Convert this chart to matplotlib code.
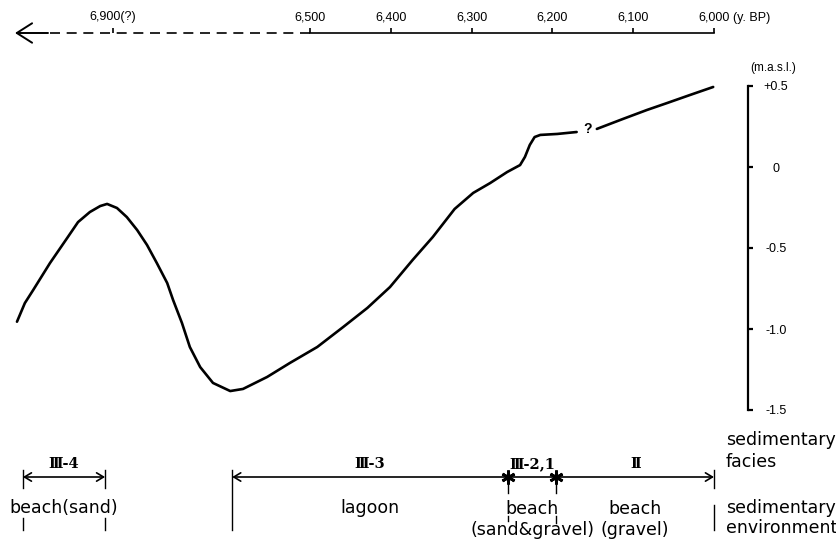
import numpy as np
import matplotlib
matplotlib.use('Agg')
import matplotlib.pyplot as plt

# ---------------- data ----------------
# sea-level curve (years BP, metres above sea level)
seg1_years = [7095, 7079, 7062, 7028, 6993, 6971, 6947, 6926, 6912, 6892,
              6872, 6851, 6831, 6811, 6790, 6778, 6760, 6744, 6723, 6697,
              6662, 6636, 6587, 6541, 6491, 6459, 6429, 6401, 6373, 6348,
              6321, 6298, 6277, 6256, 6240, 6234, 6228, 6222, 6215, 6194, 6170]
seg1_level = [-0.955, -0.84, -0.759, -0.593, -0.438, -0.340, -0.278, -0.241, -0.228, -0.253,
              -0.309, -0.389, -0.481, -0.593, -0.716, -0.821, -0.963, -1.111, -1.235, -1.333,
              -1.383, -1.370, -1.296, -1.210, -1.111, -0.988, -0.870, -0.741, -0.574, -0.432,
              -0.259, -0.160, -0.099, -0.031, 0.012, 0.062, 0.136, 0.185, 0.198, 0.204, 0.216]
seg2_years = [6145, 6113, 6083, 6058, 6030, 6001]
seg2_level = [0.235, 0.296, 0.352, 0.395, 0.444, 0.494]

age_ticks = [6900, 6500, 6400, 6300, 6200, 6100, 6000]
age_labels = ['6,900(?)', '6,500', '6,400', '6,300', '6,200', '6,100', '6,000']
level_ticks = [0.5, 0.0, -0.5, -1.0, -1.5]
level_labels = ['+0.5', '0', '-0.5', '-1.0', '-1.5']

facies_bounds = [7083, 6916, 6658, 6255, 6195, 6000]
facies_names = ['Ⅲ-4', 'Ⅲ-3', 'Ⅲ-2,1', 'Ⅱ']
env_names = [['beach(sand)'], ['lagoon'], ['beach', '(sand&gravel)'], ['beach', '(gravel)']]

# ---------------- scale (broken time axis) ----------------
YR = [5000, 6000, 6500, 6900, 8000]
TT = [-1000, 0, 500, 743.8, 743.8 + 1100 * 0.6095]


def fwd(y):
    return np.interp(y, YR, TT)


def inv(t):
    return np.interp(t, TT, YR)


def px2yr(px):
    return float(inv((714 - px) / 0.808))


def py2v(py):
    return 0.5 - (py - 86) / 162.0


plt.rcParams['font.family'] = ['Liberation Sans', 'DejaVu Sans']

fig = plt.figure(figsize=(8.37, 5.44), dpi=100)
ax = fig.add_axes([0, 0, 1, 1])
ax.set_xscale('function', functions=(fwd, inv))
ax.set_xlim(px2yr(0), px2yr(837))
ax.set_ylim(py2v(544), py2v(0))

# curve
ax.plot(seg1_years, seg1_level, color='black', lw=1.9, solid_joinstyle='round', solid_capstyle='round')
ax.plot(seg2_years, seg2_level, color='black', lw=1.9, solid_joinstyle='round', solid_capstyle='round')
ax.text(6157, 0.232, '?', fontsize=10, fontweight='bold', ha='center', va='center')

# spines
ax.spines['left'].set_visible(False)
ax.spines['bottom'].set_visible(False)

# top time axis
ytop = py2v(33)
ax.spines['top'].set_position(('data', ytop))
ax.spines['top'].set_bounds(6500, 6000)
ax.spines['top'].set_linewidth(1.2)
ax.xaxis.set_ticks_position('top')
ax.set_xticks(age_ticks)
ax.set_xticklabels(age_labels)
ax.tick_params(axis='x', which='both', direction='out', length=3.6, width=1.2, pad=3.5,
               labelsize=9, top=True, bottom=False, labeltop=True, labelbottom=False)
ax.xaxis.set_minor_locator(matplotlib.ticker.NullLocator())
ax.text(px2yr(733), py2v(24), '(y. BP)', fontsize=9, ha='left', va='bottom')

# dashed part and arrow head
ax.plot([px2yr(50), 6500], [ytop, ytop], color='black', lw=1.2, linestyle=(0, (6, 4)))
ax.annotate('', xy=(px2yr(15), ytop), xytext=(px2yr(48), ytop),
            arrowprops=dict(arrowstyle='->,head_length=1.1,head_width=0.7', lw=1.4,
                            color='black', shrinkA=0, shrinkB=0, mutation_scale=10))

# right level axis
ax.spines['right'].set_position(('data', px2yr(748)))
ax.spines['right'].set_bounds(-1.5, 0.5)
ax.spines['right'].set_linewidth(1.6)
ax.yaxis.set_ticks_position('right')
ax.set_yticks(level_ticks)
ax.set_yticklabels(level_labels)
ax.tick_params(axis='y', direction='out', length=3.6, width=1.6, pad=16.5, labelsize=9,
               right=True, left=False, labelright=True, labelleft=False)
for t in ax.yaxis.get_major_ticks():
    t.label2.set_horizontalalignment('center')
ax.text(px2yr(773), py2v(68), '(m.a.s.l.)', fontsize=8.5, ha='center', va='center')

# ---------------- bottom annotation: facies / environment ----------------
yf = py2v(477)
arrow_kw = dict(arrowstyle='<->,head_length=0.5,head_width=0.3', lw=1.2, color='black',
                shrinkA=0, shrinkB=0, mutation_scale=10)
ax.annotate('', xy=(facies_bounds[0], yf), xytext=(facies_bounds[1], yf), arrowprops=arrow_kw)
ax.annotate('', xy=(facies_bounds[2], yf), xytext=(facies_bounds[5], yf), arrowprops=arrow_kw)
ax.plot([facies_bounds[3], facies_bounds[4]], [yf, yf], ls='none', marker=(6, 2, 0),
        ms=10, mew=2.0, color='black')

vbars = [
    (facies_bounds[0], [(470, 488), (518, 530)]),
    (facies_bounds[1], [(470, 488), (518, 530)]),
    (facies_bounds[2], [(470, 530)]),
    (facies_bounds[3], [(477, 493), (516, 521)]),
    (facies_bounds[4], [(477, 493), (516, 523)]),
    (facies_bounds[5], [(470, 488), (505, 530)]),
]
for xb, segs in vbars:
    for a, b in segs:
        ax.plot([xb, xb], [py2v(a), py2v(b)], color='black', lw=1.0)

# facies spans: (start, end) indices into facies_bounds
spans = [(0, 1), (2, 3), (3, 4), (4, 5)]
fam_roman = ['DejaVu Serif', 'DejaVu Sans']
for i, name in enumerate(facies_names):
    a, b = spans[i]
    xm = float(inv((fwd(facies_bounds[a]) + fwd(facies_bounds[b])) / 2))
    ax.text(xm, py2v(464), name, fontsize=10.5, fontweight='bold', family=fam_roman,
            ha='center', va='center')
    lines = env_names[i]
    if len(lines) == 1:
        ax.text(xm, py2v(508), lines[0], fontsize=12.5, family=['DejaVu Sans'],
                ha='center', va='center')
    else:
        ax.text(xm, py2v(509), lines[0], fontsize=12.5, family=['DejaVu Sans'],
                ha='center', va='center')
        ax.text(xm, py2v(530), lines[1], fontsize=12.5, family=['DejaVu Sans'],
                ha='center', va='center')

for txt, py in [('sedimentary', 440), ('facies', 462), ('sedimentary', 508), ('environment', 528)]:
    ax.text(px2yr(726), py2v(py), txt, fontsize=12.5, family=['DejaVu Sans'],
            ha='left', va='center')

fig.savefig('out.png', dpi=100)
